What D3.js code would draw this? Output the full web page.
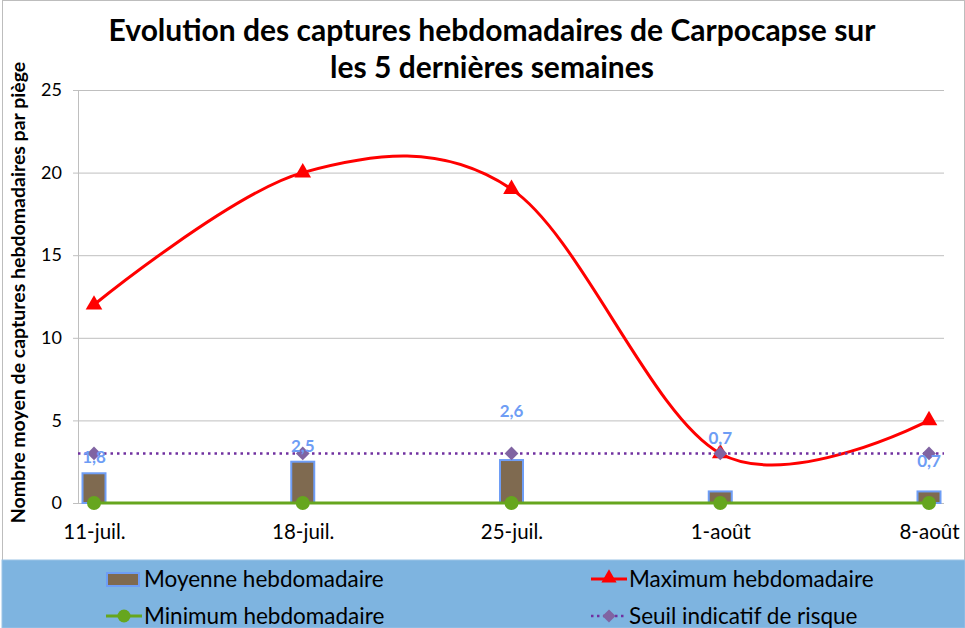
<!DOCTYPE html>
<html>
<head>
<meta charset="utf-8">
<script src="https://cdn.jsdelivr.net/npm/d3@7"></script>
<style>
  body { margin: 0; background: #fff; }
  svg { display: block; font-family: Lato, "Liberation Sans", sans-serif; }
</style>
</head>
<body>
<svg width="965" height="628"></svg>
<script>
// données
const weeks = ["11-juil.", "18-juil.", "25-juil.", "1-août", "8-août"];
const moyenne = [1.8, 2.5, 2.6, 0.7, 0.7];
const maximum = [12, 20, 19, 3, 5];
const minimum = [0, 0, 0, 0, 0];
const seuil = [3, 3, 3, 3, 3];
const yTicks = [0, 5, 10, 15, 20, 25];
// décalage vertical des étiquettes (placées à la main dans l'original)
const labelShift = [-10, -10, -43, -47, -24];

const svg = d3.select("svg"),
    width = +svg.attr("width"),
    height = +svg.attr("height");

const plot = { left: 78, right: 944, top: 90, bottom: 503 };

const x = d3.scalePoint().domain(weeks).range([94, 929]);
const y = d3.scaleLinear().domain([0, 25]).range([plot.bottom, plot.top]);

// cadre
svg.append("rect")
    .attr("x", 2.5).attr("y", 0.5)
    .attr("width", width - 3).attr("height", height)
    .attr("fill", "#fff").attr("stroke", "#bdbdbd");

// titre
const title = svg.append("text")
    .attr("text-anchor", "middle")
    .attr("font-weight", "bold")
    .attr("font-size", 30)
    .attr("fill", "#000");
title.append("tspan").attr("x", 492).attr("y", 41)
    .text("Evolution des captures hebdomadaires de Carpocapse sur");
title.append("tspan").attr("x", 492).attr("y", 78)
    .text("les 5 dernières semaines");

// grille horizontale
svg.append("g")
    .selectAll("line")
    .data(yTicks)
    .join("line")
    .attr("x1", plot.left - 5).attr("x2", plot.right)
    .attr("y1", d => y(d) + 0.5).attr("y2", d => y(d) + 0.5)
    .attr("stroke", "#bfbfbf");

// axe vertical
svg.append("line")
    .attr("x1", plot.left + 0.5).attr("x2", plot.left + 0.5)
    .attr("y1", plot.top).attr("y2", plot.bottom)
    .attr("stroke", "#bfbfbf");

const yAxis = d3.axisLeft(y).tickValues(yTicks).tickSize(0).tickPadding(0);
svg.append("g")
    .attr("transform", `translate(${plot.left - 16},0)`)
    .call(yAxis)
    .call(g => g.select(".domain").remove())
    .selectAll("text")
    .attr("font-size", 18)
    .attr("font-family", "Lato, sans-serif")
    .attr("fill", "#000");

const xAxis = d3.axisBottom(x).tickSize(0).tickPadding(0);
svg.append("g")
    .attr("transform", `translate(0,${plot.bottom + 21})`)
    .call(xAxis)
    .call(g => g.select(".domain").remove())
    .selectAll("text")
    .attr("font-size", 20.5)
    .attr("font-family", "Lato, sans-serif")
    .attr("fill", "#000");

// titre axe Y
svg.append("text")
    .attr("transform", `translate(25,${(plot.top + plot.bottom) / 2 - 4}) rotate(-90)`)
    .attr("text-anchor", "middle")
    .attr("font-weight", "bold")
    .attr("font-size", 19.5)
    .text("Nombre moyen de captures hebdomadaires par piège");

// barres (moyenne)
const barW = 23;
svg.append("g")
    .selectAll("rect")
    .data(moyenne)
    .join("rect")
    .attr("x", (d, i) => x(weeks[i]) - barW / 2)
    .attr("y", d => y(d))
    .attr("width", barW)
    .attr("height", d => y(0) - y(d))
    .attr("fill", "#7f6a50")
    .attr("stroke", "#6e9df5")
    .attr("stroke-width", 2);

// maximum (courbe lissée)
const smooth = d3.line()
    .x((d, i) => x(weeks[i]))
    .y(d => y(d))
    .curve(d3.curveCardinal.tension(0));
svg.append("path")
    .datum(maximum)
    .attr("d", smooth)
    .attr("fill", "none")
    .attr("stroke", "#ff0000")
    .attr("stroke-width", 3);
svg.append("g")
    .selectAll("path")
    .data(maximum)
    .join("path")
    .attr("transform", (d, i) => `translate(${x(weeks[i])},${y(d)})`)
    .attr("d", d3.symbol(d3.symbolTriangle, 120))
    .attr("fill", "#ff0000");

// minimum
const straight = d3.line().x((d, i) => x(weeks[i])).y(d => y(d));
svg.append("path")
    .datum(minimum)
    .attr("d", straight)
    .attr("fill", "none")
    .attr("stroke", "#66a61e")
    .attr("stroke-width", 3);
svg.append("g")
    .selectAll("circle")
    .data(minimum)
    .join("circle")
    .attr("cx", (d, i) => x(weeks[i]))
    .attr("cy", d => y(d))
    .attr("r", 7)
    .attr("fill", "#66a61e");

// seuil
svg.append("path")
    .datum(seuil)
    .attr("d", d3.line().x((d, i) => i === 0 ? plot.left : i === seuil.length - 1 ? plot.right : x(weeks[i])).y(d => y(d)))
    .attr("fill", "none")
    .attr("stroke", "#7030a0")
    .attr("stroke-width", 2.5)
    .attr("stroke-dasharray", "2.5,4");
svg.append("g")
    .selectAll("path")
    .data(seuil)
    .join("path")
    .attr("transform", (d, i) => `translate(${x(weeks[i])},${y(d)})`)
    .attr("d", d3.symbol(d3.symbolDiamond2, 120))
    .attr("fill", "#8064a2");

// étiquettes des moyennes
svg.append("g")
    .selectAll("text")
    .data(moyenne)
    .join("text")
    .attr("x", (d, i) => x(weeks[i]))
    .attr("y", (d, i) => y(d) + labelShift[i])
    .attr("text-anchor", "middle")
    .attr("font-weight", "bold")
    .attr("font-size", 17)
    .attr("fill", "#6e9df5")
    .text(d => String(d).replace(".", ","));

// légende
const legend = svg.append("g");
legend.append("rect")
    .attr("x", 2).attr("y", 560)
    .attr("width", width - 2).attr("height", height - 560)
    .attr("fill", "#7eb4e0")
    .attr("stroke", "#9cc3e6");

const items = [
    { name: "Moyenne hebdomadaire", col: 0, row: 0, kind: "bar" },
    { name: "Maximum hebdomadaire", col: 1, row: 0, kind: "max" },
    { name: "Minimum hebdomadaire", col: 0, row: 1, kind: "min" },
    { name: "Seuil indicatif de risque", col: 1, row: 1, kind: "seuil" }
];
const colX = [106, 591], rowY = [579, 616];

const li = legend.selectAll("g.item")
    .data(items)
    .join("g")
    .attr("class", "item")
    .attr("transform", d => `translate(${colX[d.col]},${rowY[d.row]})`);

li.each(function (d) {
    const g = d3.select(this);
    if (d.kind === "bar") {
        g.append("rect").attr("x", 1).attr("y", -6).attr("width", 32).attr("height", 13)
            .attr("fill", "#7f6a50").attr("stroke", "#6e9df5").attr("stroke-width", 2);
    } else if (d.kind === "max") {
        g.append("line").attr("x1", 0).attr("x2", 36).attr("stroke", "#ff0000").attr("stroke-width", 3);
        g.append("path").attr("transform", "translate(18,-1)")
            .attr("d", d3.symbol(d3.symbolTriangle, 100)).attr("fill", "#ff0000");
    } else if (d.kind === "min") {
        g.append("line").attr("x1", 0).attr("x2", 36).attr("stroke", "#66a61e").attr("stroke-width", 3);
        g.append("circle").attr("cx", 18).attr("r", 6.5).attr("fill", "#66a61e");
    } else {
        g.append("line").attr("x1", 0).attr("x2", 36).attr("stroke", "#7030a0")
            .attr("stroke-width", 2.5).attr("stroke-dasharray", "2.5,3.5");
        g.append("path").attr("transform", "translate(18,0)")
            .attr("d", d3.symbol(d3.symbolDiamond2, 110)).attr("fill", "#8064a2");
    }
    g.append("text")
        .attr("x", 38).attr("dy", "0.35em")
        .attr("font-size", 22.5)
        .attr("fill", "#000")
        .text(d.name);
});
</script>
</body>
</html>
